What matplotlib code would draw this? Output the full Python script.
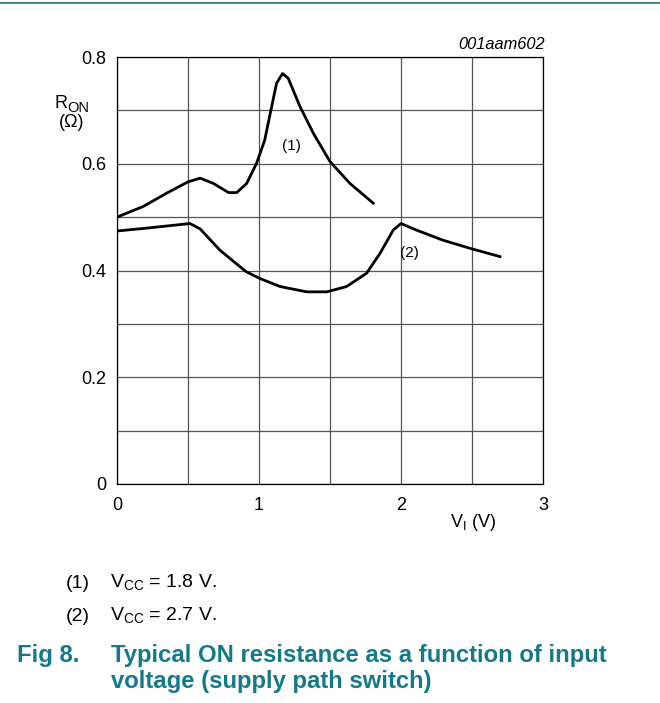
import numpy as np
import matplotlib
matplotlib.use('Agg')
import matplotlib.pyplot as plt

plt.rcParams['font.family'] = ['Liberation Sans', 'DejaVu Sans']

# curve (1): VCC = 1.8 V
v1 = [0.0, 0.185, 0.35, 0.5, 0.585, 0.68, 0.785, 0.843, 0.913, 0.983, 1.04,
      1.089, 1.124, 1.166, 1.206, 1.289, 1.383, 1.5, 1.641, 1.805]
r1 = [0.500, 0.520, 0.545, 0.566, 0.573, 0.563, 0.546, 0.546, 0.563, 0.601, 0.644,
      0.707, 0.751, 0.769, 0.760, 0.707, 0.657, 0.604, 0.563, 0.526]

# curve (2): VCC = 2.7 V
v2 = [0.0, 0.232, 0.514, 0.585, 0.725, 0.908, 1.007, 1.148, 1.336, 1.477, 1.617,
      1.758, 1.852, 1.946, 2.0, 2.106, 2.293, 2.48, 2.697]
r2 = [0.474, 0.480, 0.488, 0.478, 0.438, 0.398, 0.385, 0.370, 0.360, 0.360, 0.370,
      0.395, 0.432, 0.476, 0.488, 0.476, 0.457, 0.442, 0.426]

xticklabels = ['0', '', '1', '', '2', '', '3']
yticklabels = ['0', '', '0.2', '', '0.4', '', '0.6', '', '0.8']
teal = '#137a8e'

fig = plt.figure(figsize=(6.6, 7.03), dpi=100)
ax = fig.add_axes([117/660, 1-484/703, 426/660, 427/703])

ax.set_xlim(0, 3)
ax.set_ylim(0, 0.8)
ax.set_xticks(np.arange(0, 3.01, 0.5))
ax.set_yticks(np.arange(0, 0.801, 0.1))
ax.grid(True, color='#555555', linewidth=0.9)
ax.tick_params(length=0, labelsize=13)
ax.tick_params(axis='x', pad=9)
ax.tick_params(axis='y', pad=8)
ax.set_xticklabels(xticklabels)
ax.set_yticklabels(yticklabels)
for s in ax.spines.values():
    s.set_linewidth(0.9)

ax.plot(v1, r1, color='black', linewidth=2)
ax.plot(v2, r2, color='black', linewidth=2)

ax.text(1.16, 0.626, '(1)', fontsize=11)
ax.text(1.993, 0.425, '(2)', fontsize=11)
ax.text(3.01, 0.81, '001aam602', fontsize=11.8, style='italic', ha='right', va='bottom')

fig.text(55/660, 1-108/703, 'R', fontsize=13)
fig.text(67.5/660, 1-112/703, 'ON', fontsize=10.5)
fig.text(59/660, 1-127/703, '(\u03a9)', fontsize=13)
fig.text(450/660, 1-527/703, r'V$_{\mathregular{I}}$ (V)', fontsize=13)

fig.text(66/660, 1-588/703, '(1)', fontsize=14)
fig.text(110/660, 1-588/703, r'V$_{\mathregular{CC}}$ = 1.8 V.', fontsize=14)
fig.text(66/660, 1-621/703, '(2)', fontsize=14)
fig.text(110/660, 1-621/703, r'V$_{\mathregular{CC}}$ = 2.7 V.', fontsize=14)

fig.text(17/660, 1-662/703, 'Fig 8.', fontsize=17.2, fontweight='bold', color=teal)
fig.text(111/660, 1-662/703, 'Typical ON resistance as a function of input',
         fontsize=17.2, fontweight='bold', color=teal)
fig.text(111/660, 1-688/703, 'voltage (supply path switch)',
         fontsize=17.2, fontweight='bold', color=teal)

fig.add_artist(plt.Line2D([0, 1], [1-3/703, 1-3/703], color='#1a6e8a', linewidth=1.2))

fig.savefig('out.png', dpi=100)
